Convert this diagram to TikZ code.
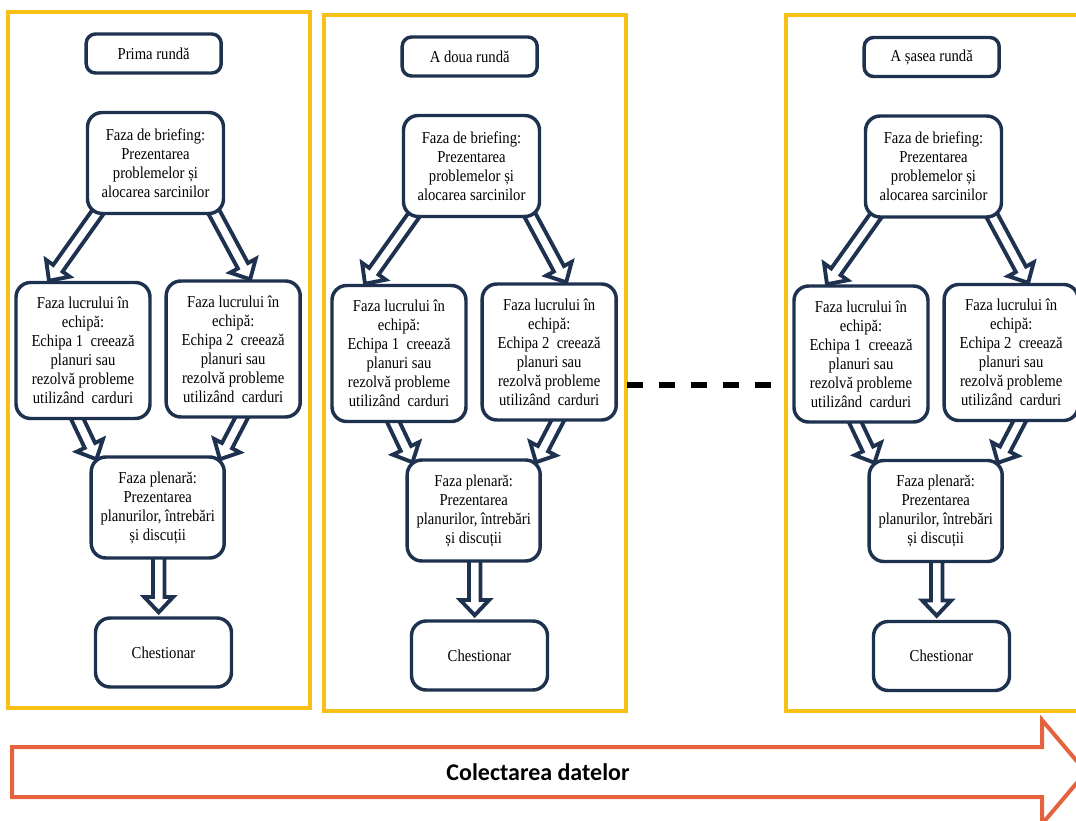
\documentclass[tikz,border=0pt]{standalone}
\usepackage{fontspec}
\setmainfont{Liberation Serif}[FakeStretch=0.88]
\newfontfamily\calib{Carlito}
\usetikzlibrary{calc}
\pgfdeclarelayer{bg}
\pgfsetlayers{bg,main}
\definecolor{navy}{RGB}{30,50,80}
\definecolor{gold}{RGB}{247,192,22}
\definecolor{orng}{RGB}{228,98,60}
\tikzset{
  box/.style={draw=navy, line width=2.6pt, fill=white, rounded corners=11pt,
    align=center, inner sep=0pt, font=\fontsize{12.5}{14.25}\selectfont},
  titlebox/.style={box, rounded corners=7pt, minimum width=101.25pt, minimum height=29.25pt},
  briefbox/.style={box, minimum width=102pt, minimum height=75.75pt},
  teambox/.style={box, minimum width=100.5pt, minimum height=102pt},
  plenbox/.style={box, minimum width=99.75pt, minimum height=75.75pt},
  chestbox/.style={box, minimum width=102pt, minimum height=51.75pt},
  panel/.style={draw=gold, line width=3pt},
  harr/.style={draw=navy, fill=white, line width=2.9pt, line join=miter},
  bigarrow/.style={draw=orng, fill=white, line width=3pt, line join=miter},
  dashline/.style={draw=black, line width=3.8pt, dash pattern=on 12pt off 12pt}
}
\newcommand{\harrow}[2]{%
  \coordinate (hA) at #1;
  \coordinate (hB) at #2;
  \coordinate (hN) at ($(hB)!11.5pt!(hA)$);
  \path[harr] ($(hA)!4.3pt!90:(hB)$) -- ($(hN)!4.3pt!-90:(hA)$) -- ($(hN)!10.9pt!-90:(hA)$)
    -- (hB) -- ($(hN)!10.9pt!90:(hA)$) -- ($(hN)!4.3pt!90:(hA)$) -- ($(hA)!4.3pt!-90:(hB)$) -- cycle;}
\begin{document}
\begin{tikzpicture}[x=0.75pt, y=-0.75pt]
\useasboundingbox (0,0) rectangle (1076,821);
\clip (0,0) rectangle (1076,821);
\foreach \i/\bx/\by/\ttl in {1/155.5/163/Prima rundă, 2/471.5/166/A doua rundă, 3/933.5/166.5/A șasea rundă}{
  \begin{pgfonlayer}{bg}
    \draw[panel] (\bx-147.5,\by-151.5) rectangle (\bx+154,\by+544.5);
  \end{pgfonlayer}
  \node[titlebox] (t\i) at (\bx-1.8,\by-109.5) {\ttl};
  \node[briefbox] (b\i) at (\bx,\by) {Faza de briefing:\\Prezentarea\\problemelor și\\alocarea sarcinilor};
  \node[teambox] (tL\i) at (\bx-72.5,\by+187.5) {Faza lucrului în\\echipă:\\Echipa 1 \ creează\\planuri sau\\rezolvă probleme\\utilizând \ carduri};
  \node[teambox] (tR\i) at (\bx+77.7,\by+186) {Faza lucrului în\\echipă:\\Echipa 2 \ creează\\planuri sau\\rezolvă probleme\\utilizând \ carduri};
  \node[plenbox] (p\i) at (\bx+2.2,\by+344.5) {Faza plenară:\\Prezentarea\\planurilor, întrebări\\și discuții};
  \node[chestbox] (c\i) at (\bx+8,\by+489.5) {Chestionar};
  \begin{pgfonlayer}{bg}
    \harrow{($(b\i.south)+(-57,-4)$)}{($(tL\i.north)+(-34,0)$)}
    \harrow{($(b\i.south)+(58,-4)$)}{($(tR\i.north)+(17,0)$)}
    \harrow{($(tL\i.south)+(-7,-4)$)}{($(p\i.north west)+(7,4)$)}
    \harrow{($(tR\i.south)+(10,-4)$)}{($(p\i.north east)+(-6,4)$)}
    \coordinate (pc\i) at ($(p\i.south)+(1,0)$);
    \harrow{($(pc\i)+(0,-4)$)}{($(pc\i |- c\i.north)+(0,-4)$)}
  \end{pgfonlayer}
}
\coordinate (d1) at (627,385);
\coordinate (d2) at (775,385);
\draw[dashline] (d1) -- (d2);
\draw[bigarrow] (12,747) -- (1042,747) -- (1042,720) -- (1086,772) -- (1042,824) -- (1042,797) -- (12,797) -- cycle;
\node[font=\calib\bfseries\fontsize{18}{20}\selectfont] (collect) at (538,772) {Colectarea datelor};
\end{tikzpicture}
\end{document}
